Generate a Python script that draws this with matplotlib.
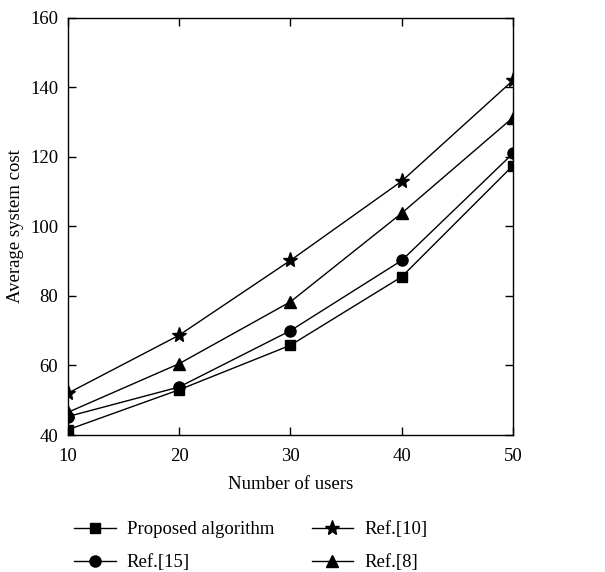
import matplotlib
matplotlib.use("Agg")
import matplotlib.pyplot as plt

plt.rcParams['font.family'] = ['Liberation Serif', 'DejaVu Serif']

users = [10, 20, 30, 40, 50]
proposed = [41.5, 53.0, 65.8, 85.5, 117.5]
ref15 = [45.3, 53.8, 70.0, 90.2, 121.0]
ref10 = [52.0, 68.7, 90.2, 113.0, 142.0]
ref8 = [46.5, 60.5, 78.3, 103.8, 131.3]

fig = plt.figure(figsize=(6.05, 5.72), dpi=100)
ax = fig.add_axes([0.112, 0.2395, 0.736, 0.7295])

lw = 1.0
l1, = ax.plot(users, proposed, color='black', lw=lw, marker='s', ms=7, label='Proposed algorithm')
l2, = ax.plot(users, ref15, color='black', lw=lw, marker='o', ms=8, label='Ref.[15]')
l3, = ax.plot(users, ref10, color='black', lw=lw, marker='*', ms=11, label='Ref.[10]')
l4, = ax.plot(users, ref8, color='black', lw=lw, marker='^', ms=9, label='Ref.[8]')

ax.set_xlim(10, 50)
ax.set_ylim(40, 160)
ax.set_xticks(users)
ax.set_yticks(range(40, 161, 20))
ax.tick_params(direction='in', top=True, right=True, labelsize=13.5, length=6, width=1)
ax.tick_params(axis='x', pad=9)
ax.tick_params(axis='y', pad=7)
for s in ax.spines.values():
    s.set_linewidth(1.0)
ax.set_xlabel('Number of users', fontsize=13.5, labelpad=8)
ax.set_ylabel('Average system cost', fontsize=13.5, labelpad=4)

fig.legend(handles=[l1, l2, l3, l4], loc='lower left', bbox_to_anchor=(0.095, -0.028),
           ncol=2, frameon=False, fontsize=13.5, handlelength=2.2, columnspacing=2.0,
           labelspacing=0.85, handletextpad=0.6)

fig.savefig('out.png', dpi=100)
